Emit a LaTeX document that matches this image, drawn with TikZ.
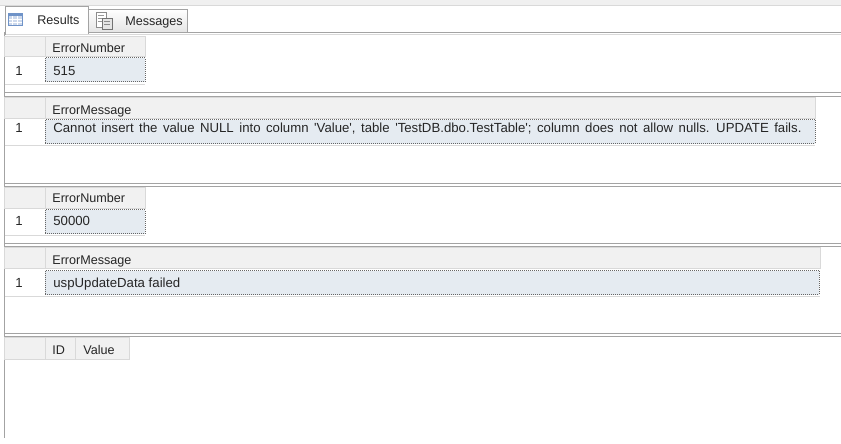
\documentclass[tikz,border=0pt]{standalone}
\usepackage{fontspec}
\setmainfont{Liberation Sans}
\usetikzlibrary{positioning}
\definecolor{stripgray}{HTML}{F0F0F0}
\definecolor{tabgray}{HTML}{E4E4E4}
\definecolor{linegray}{HTML}{A3A3A3}
\definecolor{lightline}{HTML}{D9D9D9}
\definecolor{hdrgray}{HTML}{F1F1F1}
\definecolor{cellblue}{HTML}{E5EBF1}
\definecolor{gridblue}{HTML}{6F93C8}
\tikzset{every picture/.style={line width=0.75pt}}
\tikzset{
  panel/.style={draw=linegray,line width=1pt},
  panelin/.style={draw=lightline,line width=1pt},
  hdr/.style={fill=hdrgray,draw=lightline,line width=0.6pt},
  val/.style={fill=cellblue,draw=black!60,densely dotted,line width=1pt},
  rowline/.style={draw=lightline,line width=0.6pt},
  txt/.style={anchor=base west,inner sep=0pt,text=black!85,font=\fontsize{12.6}{14}\selectfont},
  dtxt/.style={txt,font=\fontsize{13.2}{15}\selectfont},
}
\newcommand{\q}{\textquotesingle}
\begin{document}
\begin{tikzpicture}[x=1pt,y=-1pt]
\useasboundingbox[fill=white] (0,0) rectangle (841,444);
% tab strip
\fill[stripgray] (0,0) rectangle (841,5);
\draw[lightline] (0,5) -- (841,5);
\draw[linegray,top color=white,bottom color=tabgray,line width=0.8pt] (88,33) -- (88,9) -- (187,9) -- (187,33);
\draw[linegray,fill=white,line width=0.8pt] (5,35) -- (5,6) -- (88,6) -- (88,35);
\fill[gridblue!35] (8,13) rectangle (22,25);
\fill[gridblue] (8,13) rectangle (22,16);
\foreach \gx in {12.5,17} \draw[white,line width=0.8pt] (\gx,16) -- (\gx,25);
\foreach \gy in {19,22} \draw[white,line width=0.8pt] (8,\gy) -- (22,\gy);
\draw[gridblue,line width=0.6pt] (8,13) rectangle (22,25);
\draw[black!45,fill=white,line width=0.6pt] (96,12) rectangle (106,27);
\foreach \gy in {15,18,21} \draw[black!40,line width=0.6pt] (98,\gy) -- (104,\gy);
\draw[black!55,fill=black!10,line width=0.6pt] (102,18) rectangle (112,29);
\foreach \gy in {21,24} \draw[black!45,line width=0.6pt] (104,\gy) -- (110,\gy);
\node[txt] (tab1) at (37,25) {Results};
\node[txt] (tab2) at (125,25.5) {Messages};
%
\draw[panel] (4,460) -- (4,33) -- (5,33) (88,33) -- (841,33);
\draw[panelin] (5.5,35) -- (841,35);
\draw[panel] (4,93) -- (841,93);
\draw[panel] (4,96) -- (841,96);
\draw[panel] (4,183) -- (841,183);
\draw[panel] (4,186) -- (841,186);
\draw[panel] (4,243) -- (841,243);
\draw[panel] (4,246) -- (841,246);
\draw[panel] (4,333) -- (841,333);
\draw[panel] (4,336) -- (841,336);
\fill[white] (0,438) rectangle (10,444);
%
\filldraw[hdr] (4.5,36) rectangle (45,56);
\filldraw[hdr] (45,36) rectangle (145,56);
\draw[rowline] (4.5,84) -- (145,84);
\filldraw[val] (45,58) rectangle (145,82);
\node[txt] (h1) at (52,52.5) {ErrorNumber};
\node[dtxt] (r1) at (15,75) {1};
\node[dtxt] (v1) at (53,75) {515};
%
\filldraw[hdr] (4.5,97.5) rectangle (45,118);
\filldraw[hdr] (45,97.5) rectangle (815,118);
\draw[rowline] (4.5,145) -- (815,145);
\filldraw[val] (45,119.5) rectangle (815,143.5);
\node[txt] (h2) at (52,114) {ErrorMessage};
\node[dtxt] (r2) at (15,132.5) {1};
\node[dtxt] (v2) at (53,132.5) {\spaceskip=5.5pt Cannot insert the value NULL into column \q Value\q, table \q TestDB.dbo.TestTable\q; column does not allow nulls. UPDATE fails.};
%
\filldraw[hdr] (4.5,187.5) rectangle (45,208);
\filldraw[hdr] (45,187.5) rectangle (145,208);
\draw[rowline] (4.5,235.5) -- (145,235.5);
\filldraw[val] (45,209.5) rectangle (145,233.5);
\node[txt] (h3) at (52,202) {ErrorNumber};
\node[dtxt] (r3) at (15,225.5) {1};
\node[dtxt] (v3) at (53,225.5) {50000};
%
\filldraw[hdr] (4.5,247.5) rectangle (45,268);
\filldraw[hdr] (45,247.5) rectangle (820,268);
\draw[rowline] (4.5,296.5) -- (820,296.5);
\filldraw[val] (45,270.5) rectangle (819,294.5);
\node[txt] (h4) at (52,264) {ErrorMessage};
\node[dtxt] (r4) at (15,287) {1};
\node[dtxt] (v4) at (53,287) {uspUpdateData failed};
%
\filldraw[hdr] (4.5,337.5) rectangle (45,359);
\filldraw[hdr] (45,337.5) rectangle (75,359);
\filldraw[hdr] (75,337.5) rectangle (129,359);
\node[txt] (h5) at (52,354) {ID};
\node[txt] (h6) at (83,354) {Value};
\end{tikzpicture}
\end{document}
